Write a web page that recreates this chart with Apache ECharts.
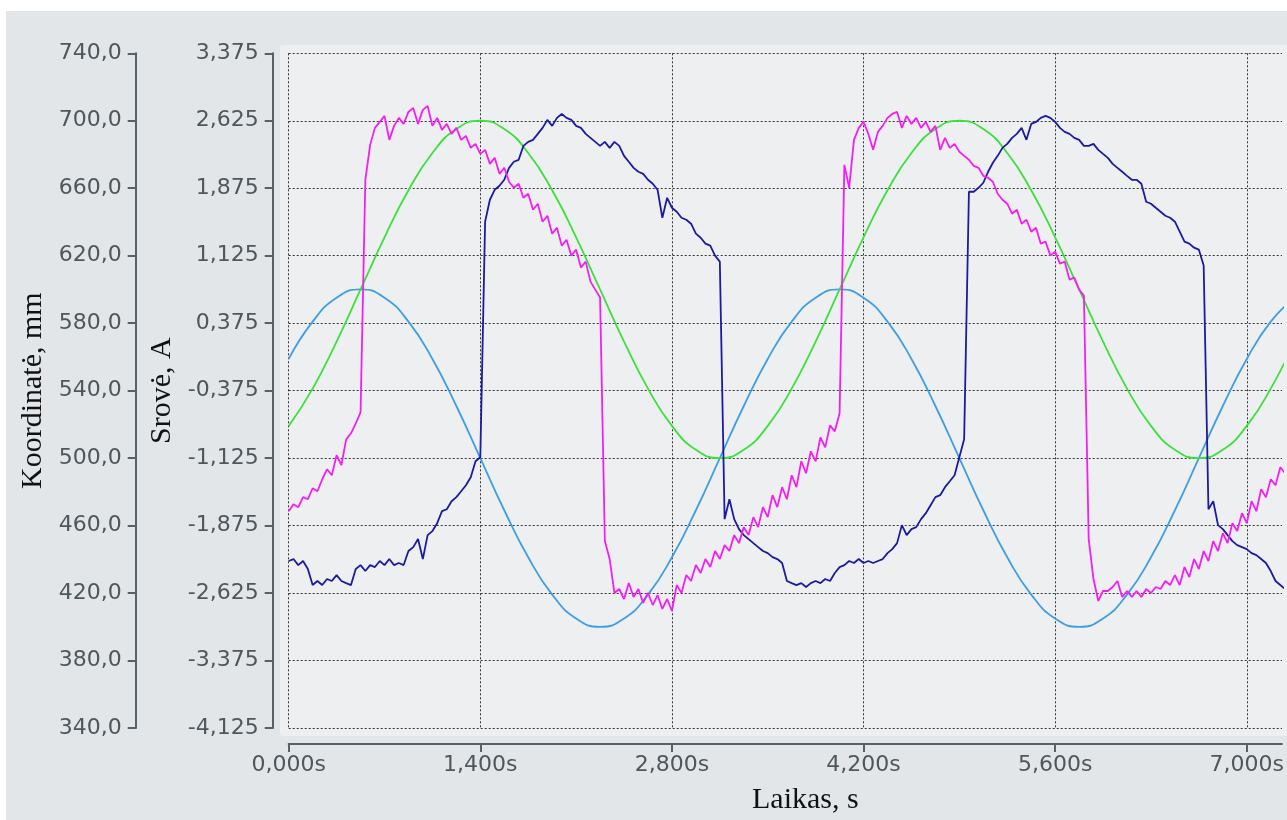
<!DOCTYPE html>
<html>
<head>
<meta charset="utf-8">
<title>Koordinatė ir srovė</title>
<script src="https://cdn.jsdelivr.net/npm/echarts@6/dist/echarts.min.js"></script>
<style>
  html, body { margin: 0; padding: 0; background: #fff; }
  #chart { position: absolute; left: 6px; top: 11px; width: 1281px; height: 809px; background: #e3e6e9; }
</style>
</head>
<body>
<div id="chart"></div>
<script>
// sampling clocks of the recording, s
var currentStep = 0.035;
var coordStep = 0.175;

// current of the first phase (magenta), A
var currentMagenta = [
  -1.715,-1.637,-1.670,-1.559,-1.582,-1.460,-1.493,-1.360,-1.249,-1.315,
  -1.093,-1.204,-0.916,-0.849,-0.738,-0.616,1.969,2.357,2.546,2.612,
  2.679,2.413,2.568,2.657,2.590,2.723,2.768,2.590,2.746,2.790,
  2.568,2.657,2.524,2.590,2.479,2.546,2.413,2.457,2.324,2.368,
  2.257,2.302,2.146,2.213,2.035,2.102,1.947,1.880,1.925,1.769,
  1.814,1.636,1.703,1.503,1.569,1.370,1.436,1.237,1.303,1.126,
  1.192,0.993,1.059,0.837,0.748,0.660,-2.047,-2.247,-2.624,-2.580,
  -2.691,-2.514,-2.669,-2.580,-2.735,-2.624,-2.758,-2.647,-2.802,-2.691,
  -2.824,-2.536,-2.624,-2.425,-2.491,-2.314,-2.402,-2.247,-2.336,-2.158,
  -2.247,-2.092,-2.158,-1.981,-2.070,-1.892,-1.981,-1.781,-1.892,-1.670,
  -1.781,-1.537,-1.670,-1.448,-1.582,-1.315,-1.448,-1.160,-1.293,-1.049,
  -1.160,-0.894,-1.005,-0.761,-0.827,-0.627,2.135,1.880,2.413,2.546,
  2.612,2.479,2.302,2.501,2.568,2.657,2.701,2.723,2.546,2.679,
  2.590,2.657,2.546,2.612,2.501,2.568,2.302,2.435,2.324,2.368,
  2.280,2.235,2.191,2.124,2.102,2.013,1.991,1.947,1.814,1.747,
  1.703,1.592,1.636,1.481,1.525,1.392,1.436,1.259,1.281,1.126,
  1.170,1.037,1.059,0.859,0.882,0.748,0.682,-2.025,-2.469,-2.713,
  -2.602,-2.602,-2.558,-2.491,-2.669,-2.602,-2.669,-2.602,-2.669,-2.580,
  -2.624,-2.558,-2.580,-2.491,-2.536,-2.425,-2.536,-2.336,-2.447,-2.247,
  -2.358,-2.158,-2.269,-2.047,-2.158,-1.959,-2.070,-1.848,-1.936,-1.737,
  -1.848,-1.604,-1.715,-1.471,-1.559,-1.360,-1.426,-1.226,-1.293
];

// current of the second phase (navy), A
var currentNavy = [
  -2.269,-2.247,-2.314,-2.269,-2.358,-2.536,-2.491,-2.536,-2.469,-2.491,
  -2.425,-2.491,-2.514,-2.536,-2.358,-2.314,-2.380,-2.314,-2.336,-2.269,
  -2.314,-2.247,-2.314,-2.291,-2.314,-2.158,-2.114,-2.025,-2.247,-1.981,
  -1.936,-1.848,-1.715,-1.693,-1.604,-1.559,-1.493,-1.426,-1.337,-1.160,
  -1.116,1.503,1.747,1.858,1.902,1.969,2.102,2.169,2.191,2.346,
  2.390,2.413,2.479,2.546,2.635,2.568,2.657,2.701,2.657,2.635,
  2.568,2.546,2.479,2.435,2.390,2.346,2.390,2.324,2.390,2.346,
  2.235,2.169,2.102,2.058,2.035,1.969,1.925,1.858,1.547,1.769,
  1.658,1.614,1.547,1.525,1.481,1.370,1.325,1.259,1.237,1.126,
  1.059,-1.803,-1.582,-1.803,-1.914,-1.981,-2.025,-2.070,-2.114,-2.158,
  -2.181,-2.225,-2.247,-2.291,-2.491,-2.514,-2.536,-2.514,-2.558,-2.514,
  -2.491,-2.514,-2.469,-2.491,-2.402,-2.336,-2.314,-2.269,-2.291,-2.247,
  -2.291,-2.269,-2.291,-2.269,-2.247,-2.181,-2.136,-2.070,-1.870,-1.981,
  -1.914,-1.892,-1.803,-1.737,-1.648,-1.559,-1.537,-1.448,-1.382,-1.315,
  -1.116,-0.916,1.836,1.836,1.880,1.936,2.058,2.158,2.235,2.324,
  2.368,2.435,2.479,2.546,2.413,2.590,2.612,2.657,2.679,2.657,
  2.612,2.546,2.501,2.479,2.435,2.413,2.346,2.346,2.368,2.302,
  2.257,2.213,2.146,2.102,2.058,2.013,1.969,1.969,1.925,1.725,
  1.703,1.658,1.614,1.569,1.547,1.503,1.392,1.281,1.259,1.214,
  1.192,1.015,-1.693,-1.604,-1.870,-1.914,-1.981,-2.047,-2.092,-2.114,
  -2.136,-2.181,-2.203,-2.247,-2.291,-2.380,-2.491,-2.536,-2.580
];

// coordinate of the first carriage (green), mm
var coordGreen = [
  519.1,541.2,569.1,600,630.9,658.8,680.9,695.1,700,695.1,
  680.9,658.8,630.9,600,569.1,541.2,519.1,504.9,500,504.9,
  519.1,541.2,569.1,600,630.9,658.8,680.9,695.1,700,695.1,
  680.9,658.8,630.9,600,569.1,541.2,519.1,504.9,500,504.9,
  519.1,541.2,569.1
];

// coordinate of the second carriage (light blue), mm
var coordBlue = [
  558.8,580.9,595.1,600,595.1,580.9,558.8,530.9,500,469.1,
  441.2,419.1,404.9,400,404.9,419.1,441.2,469.1,500,530.9,
  558.8,580.9,595.1,600,595.1,580.9,558.8,530.9,500,469.1,
  441.2,419.1,404.9,400,404.9,419.1,441.2,469.1,500,530.9,
  558.8,580.9,595.1
];

function withTime(values, step) {
  var out = [];
  for (var i = 0; i < values.length; i++) out.push([i * step, values[i]]);
  return out;
}

function comma(v, digits) {
  return v.toFixed(digits).replace('.', ',');
}

var axisColor = '#56616a';
var gridLine = { color: '#333', width: 1, type: [2, 2] };
var labelStyle = { fontFamily: 'DejaVu Sans', fontSize: 22, color: '#4e575c' };
var nameStyle = { fontFamily: 'Liberation Serif', fontSize: 30, color: '#111' };

var chart = echarts.init(document.getElementById('chart'));
chart.setOption({
  animation: false,
  graphic: [{
    type: 'rect', z: -10, silent: true,
    shape: { x: 274, y: 34, width: 1020, height: 691, r: 3 },
    style: { fill: '#eeeff0' }
  }],
  grid: { left: 282.7, top: 42.3, right: 0, height: 676 },
  xAxis: {
    type: 'value', min: 0, max: 7.257, interval: 1.4,
    offset: 16,
    name: 'Laikas, s', nameLocation: 'middle', nameGap: 41,
    nameTextStyle: Object.assign({ padding: [0, 0, 0, 40] }, nameStyle),
    axisLine: { onZero: false, lineStyle: { color: axisColor, width: 2 } },
    axisTick: { length: 8, lineStyle: { color: axisColor, width: 2 } },
    axisLabel: Object.assign({ margin: 10, showMaxLabel: false,
      formatter: function (v) { return comma(v, 3) + 's'; } }, labelStyle),
    splitLine: { show: true, showMaxLine: false, lineStyle: gridLine }
  },
  yAxis: [{
    type: 'value', position: 'left', offset: 16,
    min: -4.125, max: 3.375, interval: 0.75,
    name: 'Srovė, A', nameLocation: 'middle', nameGap: 94, nameTextStyle: nameStyle,
    axisLine: { show: true, onZero: false, lineStyle: { color: axisColor, width: 2 } },
    axisTick: { show: true, length: 8, lineStyle: { color: axisColor, width: 2 } },
    axisLabel: Object.assign({ margin: 14,
      formatter: function (v) { return comma(v, 3); } }, labelStyle),
    splitLine: { show: true, lineStyle: gridLine }
  }, {
    type: 'value', position: 'left', offset: 153,
    min: 340, max: 740, interval: 40,
    name: 'Koordinatė, mm', nameLocation: 'middle', nameGap: 87, nameTextStyle: nameStyle,
    axisLine: { show: true, onZero: false, lineStyle: { color: axisColor, width: 2 } },
    axisTick: { show: true, length: 8, lineStyle: { color: axisColor, width: 2 } },
    axisLabel: Object.assign({ margin: 14,
      formatter: function (v) { return comma(v, 1); } }, labelStyle),
    splitLine: { show: false }
  }],
  series: [{
    name: 'Koordinatė 2', type: 'line', yAxisIndex: 1, smooth: true, symbol: 'none',
    lineStyle: { color: '#3f9ee2', width: 1.8 },
    data: withTime(coordBlue, coordStep)
  }, {
    name: 'Koordinatė 1', type: 'line', yAxisIndex: 1, smooth: true, symbol: 'none',
    lineStyle: { color: '#3ddf3d', width: 1.8 },
    data: withTime(coordGreen, coordStep)
  }, {
    name: 'Srovė 2', type: 'line', yAxisIndex: 0, symbol: 'none',
    lineStyle: { color: '#1b1b9c', width: 1.8 },
    data: withTime(currentNavy, currentStep)
  }, {
    name: 'Srovė 1', type: 'line', yAxisIndex: 0, symbol: 'none',
    lineStyle: { color: '#f21ff2', width: 1.8 },
    data: withTime(currentMagenta, currentStep)
  }]
});
</script>
</body>
</html>
